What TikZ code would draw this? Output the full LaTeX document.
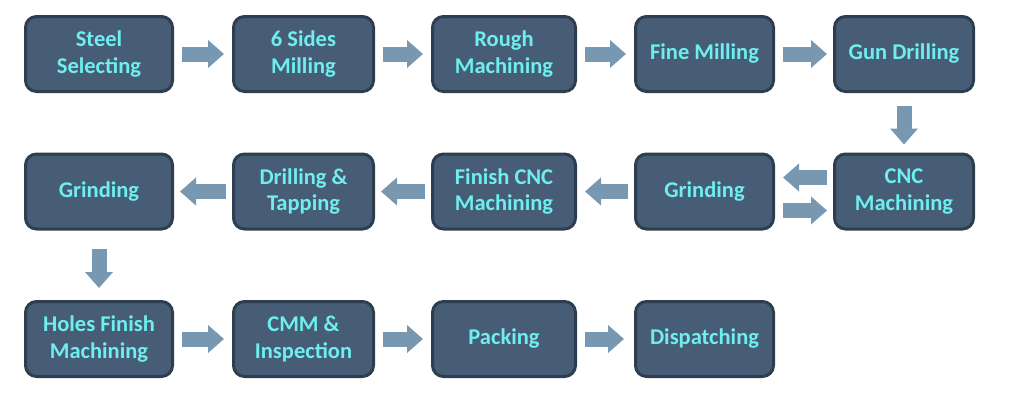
\documentclass[tikz,border=0pt]{standalone}
\usepackage{fontspec}
\setmainfont{Carlito}
\usetikzlibrary{arrows.meta}
\definecolor{boxfill}{HTML}{475D75}
\definecolor{boxdraw}{HTML}{2E3D4F}
\definecolor{txtcyan}{HTML}{6EEEEF}
\definecolor{arrowc}{HTML}{7898B2}
\tikzset{
  stepbox/.style={draw=boxdraw, fill=boxfill, line width=3pt, rounded corners=11pt,
    minimum height=75pt, inner sep=0pt, align=center, text=txtcyan,
    font=\fontsize{22.5}{26.5}\selectfont\bfseries},
  blockarrow/.style={draw=arrowc, line width=15pt,
    -{Triangle[width=27pt,length=16pt,fill=arrowc]}},
}
\begin{document}
\begin{tikzpicture}[x=1pt,y=-1pt]
\useasboundingbox (0,0) rectangle (1013,402);
% row 1
\node[stepbox, minimum width=147pt] (s1) at (99,54) {Steel\\Selecting};
\node[stepbox, minimum width=140pt] (s2) at (303.5,54) {6 Sides\\Milling};
\node[stepbox, minimum width=143pt] (s3) at (504,54) {Rough\\Machining};
\node[stepbox, minimum width=138pt] (s4) at (704.5,54) {Fine Milling};
\node[stepbox, minimum width=139pt] (s5) at (904,54) {Gun Drilling};
% row 2
\node[stepbox, minimum width=139pt] (s6) at (904,191.5) {CNC\\Machining};
\node[stepbox, minimum width=138pt] (s7) at (704.5,191.5) {Grinding};
\node[stepbox, minimum width=143pt] (s8) at (504,191.5) {Finish CNC\\Machining};
\node[stepbox, minimum width=140pt] (s9) at (303.5,191.5) {Drilling \&\\Tapping};
\node[stepbox, minimum width=147pt] (s10) at (99,191.5) {Grinding};
% row 3
\node[stepbox, minimum width=147pt] (s11) at (99,339) {Holes Finish\\Machining};
\node[stepbox, minimum width=140pt] (s12) at (303.5,339) {CMM \&\\Inspection};
\node[stepbox, minimum width=143pt] (s13) at (504,339) {Packing};
\node[stepbox, minimum width=138pt] (s14) at (704.5,339) {Dispatching};
% arrows row 1
\draw[blockarrow, shorten <=8pt, shorten >=8pt] (s1) -- (s2);
\draw[blockarrow, shorten <=8pt, shorten >=8pt] (s2) -- (s3);
\draw[blockarrow, shorten <=8pt, shorten >=8pt] (s3) -- (s4);
\draw[blockarrow, shorten <=8pt, shorten >=6pt] (s4) -- (s5);
% vertical
\draw[blockarrow, shorten <=13pt, shorten >=8pt] (s5) -- (s6);
% double between CNC and Grinding
\draw[blockarrow, shorten <=6pt, shorten >=8pt] ([yshift=14pt]s6.west) -- ([yshift=14pt]s7.east);
\draw[blockarrow, shorten <=8pt, shorten >=6pt] ([yshift=-19pt]s7.east) -- ([yshift=-19pt]s6.west);
% row 2 leftwards
\draw[blockarrow, shorten <=6pt, shorten >=8pt] (s7) -- (s8);
\draw[blockarrow, shorten <=6pt, shorten >=6pt] (s8) -- (s9);
\draw[blockarrow, shorten <=6pt, shorten >=6pt] (s9) -- (s10);
% vertical
\draw[blockarrow, shorten <=18pt, shorten >=12pt] (s10) -- (s11);
% row 3
\draw[blockarrow, shorten <=8pt, shorten >=8pt] (s11) -- (s12);
\draw[blockarrow, shorten <=8pt, shorten >=8pt] (s12) -- (s13);
\draw[blockarrow, shorten <=8pt, shorten >=10pt] (s13) -- (s14);
\end{tikzpicture}
\end{document}
